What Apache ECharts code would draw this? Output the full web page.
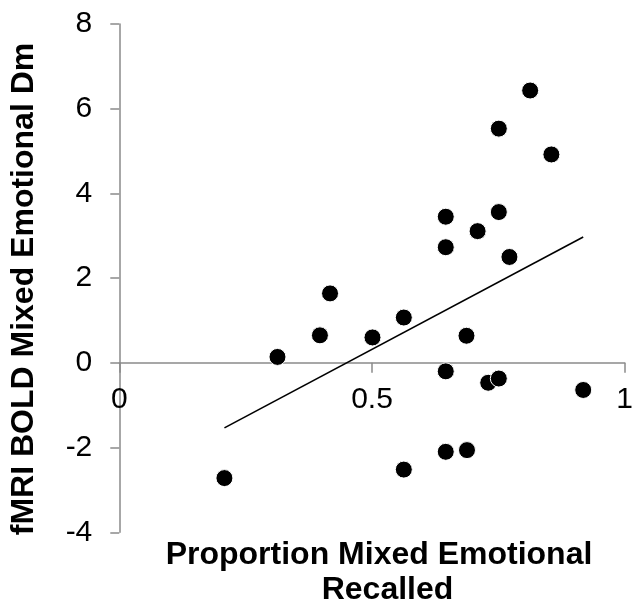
<!DOCTYPE html>
<html>
<head>
<meta charset="utf-8">
<script src="https://cdn.jsdelivr.net/npm/echarts@6/dist/echarts.min.js"></script>
<style>
  html, body { margin: 0; padding: 0; background: #fff; }
  #chart { width: 636px; height: 605px; }
</style>
</head>
<body>
<div id="chart"></div>
<script>
// Proportion of mixed emotional items recalled vs. BOLD subsequent-memory effect
const proportionRecalled = [
  0.813, 0.751, 0.855, 0.646, 0.751, 0.709, 0.646, 0.772, 0.417, 0.313, 0.208,
  0.397, 0.501, 0.563, 0.687, 0.646, 0.730, 0.751, 0.918, 0.646, 0.688, 0.563
];
const boldDm = [
  6.43, 5.53, 4.92, 3.45, 3.56, 3.11, 2.73, 2.50, 1.64, 0.14, -2.72,
  0.65, 0.60, 1.07, 0.64, -0.20, -0.47, -0.37, -0.64, -2.10, -2.06, -2.52
];
const xTicks = [0, 0.5, 1];
const yTicks = [-4, -2, 0, 2, 4, 6, 8];

const xTitle = ['Proportion Mixed Emotional', 'Recalled'];
const yTitle = 'fMRI BOLD Mixed Emotional Dm';

// Least-squares linear trend over the observed range
function linearFit(xs, ys) {
  const n = xs.length;
  const mx = xs.reduce((a, b) => a + b, 0) / n;
  const my = ys.reduce((a, b) => a + b, 0) / n;
  let sxy = 0, sxx = 0;
  for (let i = 0; i < n; i++) {
    sxy += (xs[i] - mx) * (ys[i] - my);
    sxx += (xs[i] - mx) * (xs[i] - mx);
  }
  const slope = sxy / sxx;
  return { slope, intercept: my - slope * mx };
}
const fit = linearFit(proportionRecalled, boldDm);
const xMin = Math.min(...proportionRecalled);
const xMax = Math.max(...proportionRecalled);
const trend = [xMin, xMax].map(x => [x, fit.intercept + fit.slope * x]);

const points = proportionRecalled.map((x, i) => [x, boldDm[i]]);

const FONT = '"Liberation Sans", Arial, Helvetica, sans-serif';
const AXIS_GRAY = '#8a8a8a';

const W = 636, H = 605;
const grid = { left: 119.3, right: 7.3, top: 24, bottom: 72.7 };
const yMin = yTicks[0], yMax = yTicks[yTicks.length - 1];
// lift the horizontal axis (line, ticks and labels) up to y = 0
const plotHeight = H - grid.top - grid.bottom;
const xAxisLift = plotHeight * (0 - yMin) / (yMax - yMin);

const chart = echarts.init(document.getElementById('chart'), null, { renderer: 'canvas' });
chart.setOption({
  animation: false,
  backgroundColor: '#ffffff',
  grid: Object.assign({ containLabel: false }, grid),
  xAxis: {
    type: 'value',
    position: 'bottom',
    offset: -xAxisLift,
    min: xTicks[0],
    max: xTicks[xTicks.length - 1],
    interval: 0.5,
    axisLine: { show: true, onZero: false, lineStyle: { color: AXIS_GRAY, width: 1.5 } },
    axisTick: { show: true, inside: false, length: 10, lineStyle: { color: AXIS_GRAY, width: 1.5 } },
    axisLabel: {
      margin: 22,
      color: '#000',
      fontFamily: FONT,
      fontSize: 30,
      formatter: v => (xTicks.includes(v) ? String(v) : '')
    },
    splitLine: { show: false }
  },
  yAxis: {
    type: 'value',
    min: yMin,
    max: yMax,
    interval: 2,
    axisLine: { show: true, onZero: false, lineStyle: { color: AXIS_GRAY, width: 1.5 } },
    axisTick: { show: true, inside: false, length: 9, lineStyle: { color: AXIS_GRAY, width: 1.5 } },
    axisLabel: {
      margin: 27,
      color: '#000',
      fontFamily: FONT,
      fontSize: 30
    },
    splitLine: { show: false }
  },
  series: [
    {
      type: 'scatter',
      data: points,
      symbol: 'circle',
      symbolSize: 17,
      itemStyle: { color: '#000', borderColor: '#fff', borderWidth: 1, opacity: 1 },
      z: 3
    },
    {
      type: 'line',
      data: trend,
      showSymbol: false,
      symbol: 'none',
      lineStyle: { color: '#000', width: 1.6 },
      z: 4
    }
  ],
  graphic: [
    {
      type: 'text',
      x: 24, y: 289,
      rotation: Math.PI / 2,
      style: {
        text: yTitle,
        font: 'bold 32px ' + FONT,
        fill: '#000',
        align: 'center',
        verticalAlign: 'middle'
      }
    },
    {
      type: 'text',
      x: 379, y: 555,
      style: {
        text: xTitle[0],
        font: 'bold 32px ' + FONT,
        fill: '#000',
        align: 'center',
        verticalAlign: 'middle'
      }
    },
    {
      type: 'text',
      x: 387.5, y: 590,
      style: {
        text: xTitle[1],
        font: 'bold 32px ' + FONT,
        fill: '#000',
        align: 'center',
        verticalAlign: 'middle'
      }
    }
  ]
});
</script>
</body>
</html>
